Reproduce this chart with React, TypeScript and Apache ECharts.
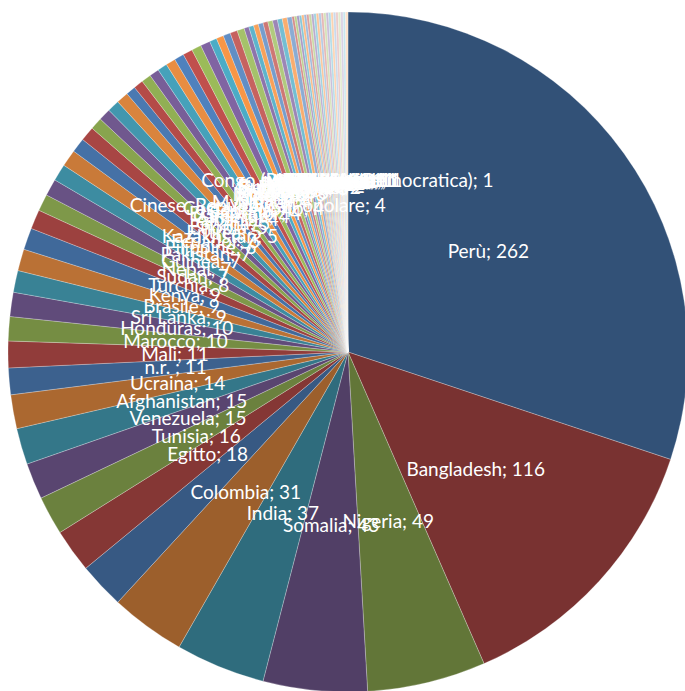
import React, { useEffect, useRef } from "react";
import * as echarts from "echarts";

const countries: string[] = [
  "Perù", "Bangladesh", "Nigeria", "Somalia", "India", "Colombia", "Senegal", "Egitto", "Tunisia",
  "Venezuela", "Afghanistan", "Ucraina", "n.r. ", "Mali", "Marocco", "Honduras", "Sri Lanka",
  "Brasile", "Kenya", "Turchia", "Sudan", "Nepal", "Guinea", "Pakistan",
  "Filippine", "Ecuador",
  "Kazakhstan", "Eritrea", "Etiopia", "Ghana",
  "Albania", "Camerun", "El Salvador", "Georgia", "Costa d'Avorio", "Cinese, Repubblica Popolare", "Myanmar", "Siria", "Russia", "Algeria",
  "Moldova", "Romania", "Libia", "Cuba", "Guatemala",
  "Bolivia", "Sierra Leone", "Burkina Faso", "Togo", "Yemen", "Palestina", "Vietnam", "Indonesia", "Mongolia", "Serbia",
  "Argentina", "Cile", "Messico", "Paraguay", "Nicaragua", "Haiti", "Benin", "Niger", "Ciad", "Libano",
  "Giordania", "Uzbekistan", "Tagikistan", "Kirghizistan", "Kosovo", "Bielorussia", "Armenia", "Azerbaigian",
  "Mauritania", "Capo Verde", "Tanzania", "Uganda", "Congo (Repubblica Democratica)",
];

const counts: number[] = [
  262, 116, 49, 43, 37, 31, 19, 18, 16,
  15, 15, 14, 11, 11, 10, 10, 9,
  9, 9, 8, 7, 7, 7, 7,
  6, 6,
  5, 5, 5, 5,
  4, 4, 4, 4, 4, 4, 4, 4, 4, 4,
  3, 3, 3, 3, 3,
  2, 2, 2, 2, 2, 2, 2, 2, 2, 2,
  1, 1, 1, 1, 1, 1, 1, 1, 1, 1,
  1, 1, 1, 1, 1, 1, 1, 1,
  1, 1, 1, 1, 1,
];

const hiddenLabels: string[] = ["Senegal"];

const accents = ["#4F81BD", "#C0504D", "#9BBB59", "#8064A2", "#4BACC6", "#F79646"];

function hexToRgb(h: string): number[] {
  return [1, 3, 5].map((i) => parseInt(h.slice(i, i + 2), 16));
}

function sliceColor(i: number): string {
  const base = hexToRgb(accents[i % 6]);
  const c = Math.floor(i / 6);
  let rgb: number[];
  if (c <= 6) {
    const f = 0.63 + (0.37 * c) / 6;
    rgb = base.map((v) => v * f);
  } else {
    const t = 0.1 + ((c - 7) / 6) * 0.72;
    rgb = base.map((v) => v + (255 - v) * t);
  }
  return `rgb(${rgb.map((v) => Math.round(v)).join(",")})`;
}

export default function App() {
  const ref = useRef<HTMLDivElement>(null);
  useEffect(() => {
    if (!ref.current) return;
    const chart = echarts.init(ref.current, undefined, { renderer: "svg" });
    chart.setOption({
      animation: false,
      series: [
        {
          type: "pie",
          center: [348, 352],
          radius: [0, 340],
          startAngle: 90,
          clockwise: true,
          avoidLabelOverlap: false,
          labelLayout: { hideOverlap: false },
          emphasis: { disabled: true },
          itemStyle: { borderColor: "rgba(255,255,255,0.5)", borderWidth: 0.5 },
          label: {
            show: true,
            position: "inside",
            color: "#ffffff",
            fontSize: 19,
            fontFamily: "Lato",
            formatter: "{b}; {c}",
          },
          labelLine: { show: false },
          data: countries.map((n, i) => ({
            name: n,
            value: counts[i],
            itemStyle: { color: sliceColor(i) },
            label: hiddenLabels.includes(n) ? { show: false } : undefined,
          })),
        },
      ],
    });
    return () => chart.dispose();
  }, []);
  return (
    <div
      ref={ref}
      style={{ position: "fixed", left: 0, top: 0, width: 685, height: 691, background: "#fff" }}
    />
  );
}
